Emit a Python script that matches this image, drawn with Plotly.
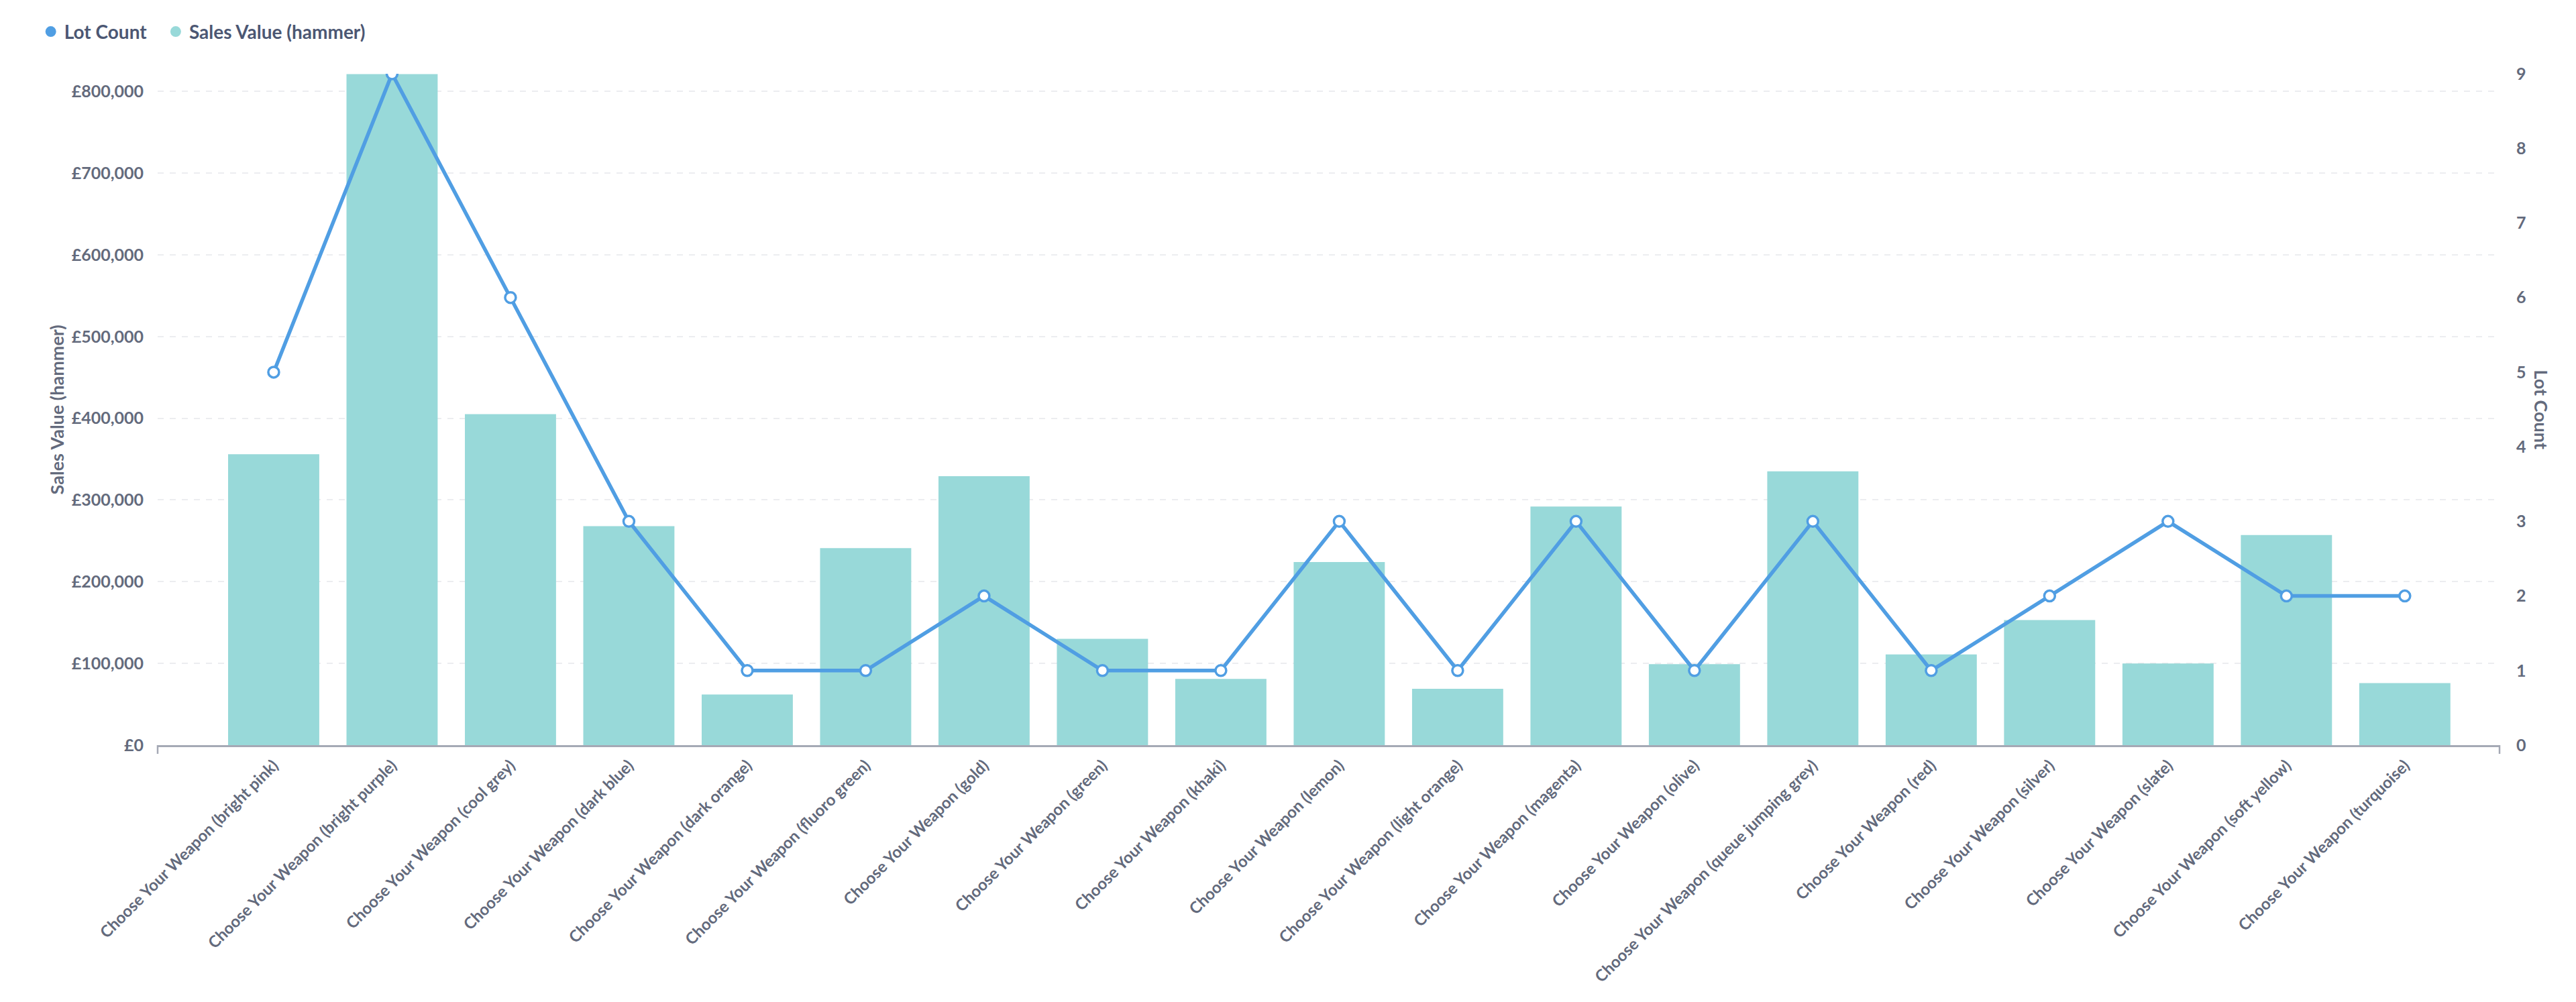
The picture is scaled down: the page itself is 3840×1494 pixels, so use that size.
import plotly.graph_objects as go

categories = [
    "Choose Your Weapon (bright pink)",
    "Choose Your Weapon (bright purple)",
    "Choose Your Weapon (cool grey)",
    "Choose Your Weapon (dark blue)",
    "Choose Your Weapon (dark orange)",
    "Choose Your Weapon (fluoro green)",
    "Choose Your Weapon (gold)",
    "Choose Your Weapon (green)",
    "Choose Your Weapon (khaki)",
    "Choose Your Weapon (lemon)",
    "Choose Your Weapon (light orange)",
    "Choose Your Weapon (magenta)",
    "Choose Your Weapon (olive)",
    "Choose Your Weapon (queue jumping grey)",
    "Choose Your Weapon (red)",
    "Choose Your Weapon (silver)",
    "Choose Your Weapon (slate)",
    "Choose Your Weapon (soft yellow)",
    "Choose Your Weapon (turquoise)",
]
sales_value = [356000, 821000, 405000, 268000, 62000, 241000, 329000, 130000, 81000,
               224000, 69000, 292000, 99000, 335000, 111000, 153000, 100000, 257000, 76000]
lot_count = [5, 9, 6, 3, 1, 1, 2, 1, 1, 3, 1, 3, 1, 3, 1, 2, 3, 2, 2]
left_ticks = [0, 100000, 200000, 300000, 400000, 500000, 600000, 700000, 800000]
left_tick_labels = ["£0", "£100,000", "£200,000", "£300,000", "£400,000",
                    "£500,000", "£600,000", "£700,000", "£800,000"]
right_ticks = [0, 1, 2, 3, 4, 5, 6, 7, 8, 9]

BLUE = "#509EE3"
TEAL = "#98D9D9"
TEXT = "#4C5773"
TICK = "#636A7C"
AXIS = "#A5A9B5"
FONT = "Lato"

fig = go.Figure()

fig.add_trace(go.Bar(
    x=categories, y=sales_value, name="Sales Value (hammer)",
    marker=dict(color=TEAL, line=dict(width=0)),
    yaxis="y", showlegend=False,
))
fig.add_trace(go.Scatter(
    x=categories, y=lot_count, name="Lot Count", mode="lines+markers",
    line=dict(color=BLUE, width=5.5),
    marker=dict(symbol="circle", size=16, color="white", line=dict(color=BLUE, width=3.5)),
    yaxis="y2", showlegend=False,
))
# legend entries (circle swatches), one per legend box
fig.add_trace(go.Scatter(x=[None], y=[None], mode="markers", name="<b>Lot Count</b>",
                         marker=dict(symbol="circle", size=24, color=BLUE), yaxis="y2",
                         legend="legend"))
fig.add_trace(go.Scatter(x=[None], y=[None], mode="markers", name="<b>Sales Value (hammer)</b>",
                         marker=dict(symbol="circle", size=24, color=TEAL), yaxis="y2",
                         legend="legend2"))

legend_common = dict(
    orientation="h", xref="container", yref="container",
    y=0.985, xanchor="left", yanchor="top",
    font=dict(family=FONT, size=28, color=TEXT),
    itemsizing="trace", itemwidth=30, bgcolor="rgba(0,0,0,0)",
)

fig.update_layout(
    width=3840, height=1494,
    margin=dict(l=235, r=114, t=110, b=383),
    paper_bgcolor="white", plot_bgcolor="white",
    font=dict(family=FONT, color=TICK, size=24),
    bargap=0.23,
    showlegend=True,
    legend=dict(x=0.0145, **legend_common),
    legend2=dict(x=0.0630, **legend_common),
    xaxis=dict(
        type="category",
        range=[-0.98, 18.8],
        tickangle=-45,
        tickvals=categories,
        ticktext=["<b>" + c + "</b>" for c in categories],
        tickfont=dict(family=FONT, size=24, color=TICK),
        showgrid=False, zeroline=False,
        showline=True, linecolor=AXIS, linewidth=2.5,
        ticks="", ticklabelstandoff=4,
    ),
    yaxis=dict(
        range=[0, 821500],
        tickvals=left_ticks,
        ticktext=["<b>" + t + "</b>" for t in left_tick_labels],
        tickfont=dict(family=FONT, size=25, color=TICK),
        showgrid=True, gridcolor="#ECEDF0", gridwidth=2, griddash="dash",
        zeroline=False, showline=False, ticks="", ticklabelstandoff=20,
    ),
    yaxis2=dict(
        range=[0, 9], overlaying="y", side="right",
        tickvals=right_ticks,
        ticktext=["<b>" + str(t) + "</b>" for t in right_ticks],
        tickfont=dict(family=FONT, size=25, color=TICK),
        showgrid=False, zeroline=False, showline=False, ticks="",
        ticklabelstandoff=24,
    ),
    annotations=[
        dict(text="<b>Sales Value (hammer)</b>", xref="paper", yref="paper",
             x=-0.043, y=0.5, textangle=-90, showarrow=False,
             xanchor="center", yanchor="middle",
             font=dict(family=FONT, size=27, color=TICK)),
        dict(text="<b>Lot Count</b>", xref="paper", yref="paper",
             x=1.0178, y=0.5, textangle=90, showarrow=False,
             xanchor="center", yanchor="middle",
             font=dict(family=FONT, size=27, color=TICK)),
    ],
    shapes=[
        dict(type="line", xref="paper", yref="paper", x0=0, x1=0, y0=0, y1=-0.013,
             line=dict(color=AXIS, width=2.5)),
        dict(type="line", xref="paper", yref="paper", x0=1, x1=1, y0=0, y1=-0.013,
             line=dict(color=AXIS, width=2.5)),
    ],
)

fig.write_html("out.html")
